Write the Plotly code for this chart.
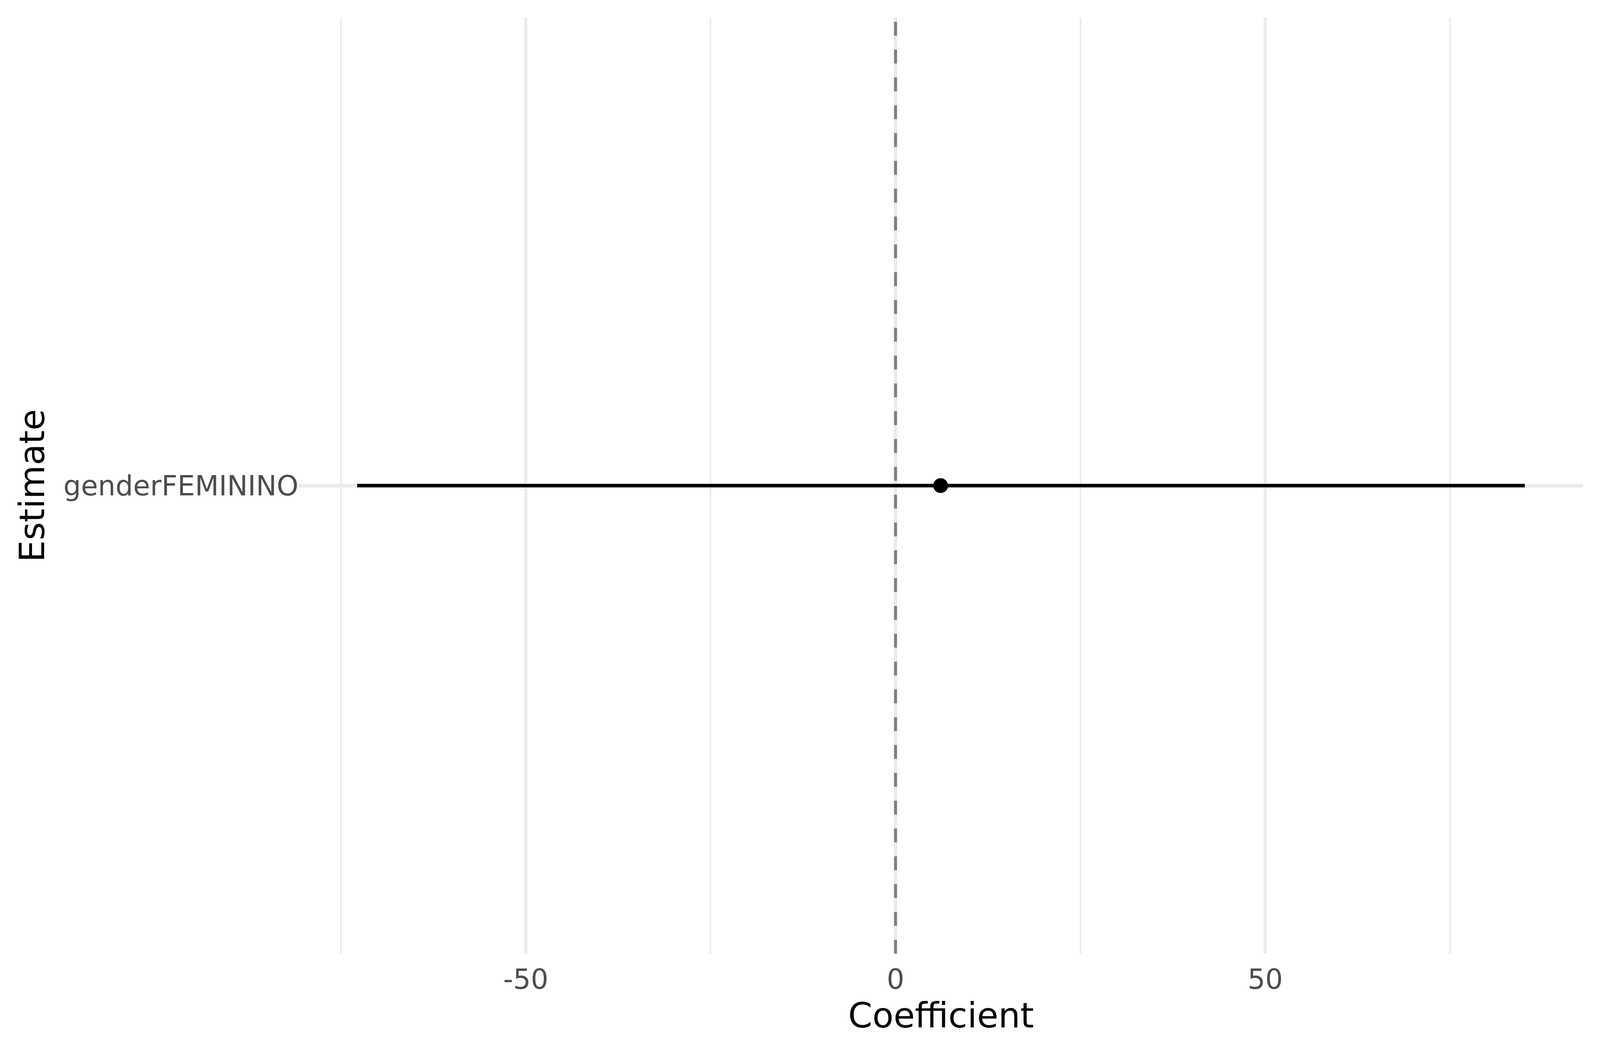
import plotly.graph_objects as go

# Data
terms = ["genderFEMININO"]
estimates = [6.1]
conf_low = [-72.8]
conf_high = [85.1]
x_ticks = [-50, 0, 50]
x_tick_labels = ["-50", "0", "50"]

FONT = "DejaVu Sans"
GRID = "#EBEBEB"
REF_W, REF_H = 4375, 2703
M_L, M_R, M_T, M_B = 817, 46, 45, 262
Y_STANDOFF, Y_TITLE_STANDOFF = 40, 20
TICK_SIZE, TITLE_SIZE = 73.3, 91.7

fig = go.Figure()

# Confidence interval lines
for t, lo, hi in zip(terms, conf_low, conf_high):
    fig.add_trace(go.Scatter(
        x=[lo, hi], y=[t, t], mode="lines",
        line=dict(color="black", width=9),
        showlegend=False, hoverinfo="skip",
    ))

# Point estimates
fig.add_trace(go.Scatter(
    x=estimates, y=terms, mode="markers",
    marker=dict(color="black", size=38, line=dict(width=0)),
    showlegend=False,
))

# Dashed zero reference line
fig.add_shape(
    type="line", xref="x", yref="paper",
    x0=0, x1=0, y0=0, y1=1,
    line=dict(color="#7F7F7F", width=8, dash="35.6px,35.6px"),
    layer="above",
)

lo_all = min(conf_low)
hi_all = max(conf_high)
span = hi_all - lo_all

fig.update_layout(
    width=REF_W, height=REF_H,
    paper_bgcolor="white", plot_bgcolor="white",
    margin=dict(l=M_L, r=M_R, t=M_T, b=M_B),
    font=dict(family=FONT),
    showlegend=False,
    xaxis=dict(
        range=[lo_all - 0.05 * span, hi_all + 0.05 * span],
        tickvals=x_ticks, ticktext=x_tick_labels,
        showgrid=True, gridcolor=GRID, gridwidth=9,
        minor=dict(dtick=25, tick0=0, showgrid=True, gridcolor=GRID, gridwidth=4.4, ticks=""),
        zeroline=False, showline=False, ticks="",
        tickfont=dict(family=FONT, size=TICK_SIZE, color="#4D4D4D"),
        ticklabelstandoff=18,
        title=dict(text="Coefficient", font=dict(family=FONT, size=TITLE_SIZE, color="black"), standoff=20),
    ),
    yaxis=dict(
        type="category",
        categoryorder="array", categoryarray=terms,
        range=[-0.6, len(terms) - 1 + 0.6],
        showgrid=True, gridcolor=GRID, gridwidth=9,
        zeroline=False, showline=False, ticks="",
        tickfont=dict(family=FONT, size=TICK_SIZE, color="#4D4D4D"),
        ticklabelstandoff=Y_STANDOFF,
        title=dict(text="Estimate", font=dict(family=FONT, size=TITLE_SIZE, color="black"), standoff=Y_TITLE_STANDOFF),
    ),
)

# Fit the figure to the actual browser viewport (keeps proportions of the layout)
fit_script = f"""
var gd = document.getElementById('{{plot_id}}');
document.body.style.margin = '0';
document.documentElement.style.overflow = 'hidden';
document.body.style.overflow = 'hidden';
var W = window.innerWidth, H = window.innerHeight;
var sx = W / {REF_W}, sy = H / {REF_H};
var f = Math.sqrt(sx);
Plotly.relayout(gd, {{
  width: W, height: H,
  'margin.l': {M_L} * sx, 'margin.r': {M_R} * sx,
  'margin.t': {M_T} * sy, 'margin.b': {M_B} * sy,
  'yaxis.ticklabelstandoff': {Y_STANDOFF} * sx,
  'yaxis.title.standoff': {Y_TITLE_STANDOFF} * sx,
  'xaxis.tickfont.size': {TICK_SIZE} * f,
  'yaxis.tickfont.size': {TICK_SIZE} * f,
  'xaxis.title.font.size': {TITLE_SIZE} * f,
  'yaxis.title.font.size': {TITLE_SIZE} * f,
  'xaxis.gridwidth': 9 * sx,
  'xaxis.minor.gridwidth': 4.4 * sx,
  'shapes[0].line.width': 8 * sx
}});
"""

fig.write_html("out.html", post_script=fit_script,
               config={"displayModeBar": False, "staticPlot": True})
